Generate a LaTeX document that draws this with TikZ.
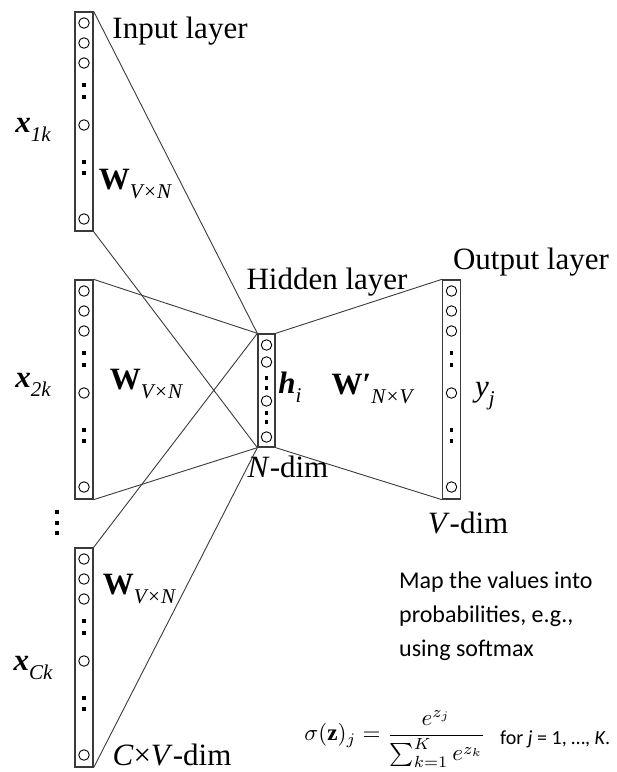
\documentclass[tikz,border=0pt]{standalone}
\usepackage{fontspec}
\setmainfont{Liberation Serif}
\newfontfamily\calibri{Carlito}
\usetikzlibrary{positioning}
\definecolor{NetInk}{HTML}{3A3A3A}
\tikzset{
  colbox/.style={draw=NetInk, line width=1.3pt, minimum width=18, inner sep=0pt},
  unit/.style={circle, draw=black, line width=0.9pt, minimum size=10.5, inner sep=0pt},
  sqdot/.style={fill=black, minimum size=3.6, inner sep=0pt},
  link/.style={draw=NetInk, line width=0.9pt},
  lbl/.style={font=\fontsize{31}{34}\selectfont, inner sep=0pt},
  note/.style={font=\calibri\fontsize{24}{34}\selectfont, align=left, inner sep=0pt},
}
\newcommand{\lsub}[1]{\raisebox{-0.3em}{\fontsize{21}{21}\selectfont\itshape #1}}

\begin{document}
\begin{tikzpicture}[x=1pt, y=-1pt]
  \useasboundingbox (0,0) rectangle (617,772);

  % \wordcol{name}{x}{top}: one-hot / output column
  \newcommand{\wordcol}[3]{%
    \node[colbox, minimum height=219] (#1) at (#2,#3+109.5) {};
    \foreach \dy in {11,31,51,113,207}
      \node[unit] (#1-u\dy) at (#2,#3+\dy) {};
    \foreach \dy in {73,85,150,161}
      \node[sqdot] (#1-d\dy) at (#2,#3+\dy) {};
  }

  \wordcol{in1}{84}{12}
  \wordcol{in2}{84}{280}
  \wordcol{in3}{84}{548}
  \wordcol{out}{451.5}{280}

  % hidden layer
  \node[colbox, minimum width=17, minimum height=113] (hid) at (266.5,390.5) {};
  \foreach \yy in {345,362,401,437}
    \node[unit] (hid-u\yy) at (266.5,\yy) {};
  \foreach \yy in {378,388,413,422}
    \node[sqdot] (hid-d\yy) at (266.5,\yy) {};

  % connections
  \foreach \src in {in1,in2,in3} {
    \draw[link] (\src.north east) -- (hid.north west);
    \draw[link] (\src.south east) -- (hid.south west);
  }
  \draw[link] (hid.north east) -- (out.north west);
  \draw[link] (hid.south east) -- (out.south west);

  % more context words
  \foreach \yy in {512,523,533}
    \node[sqdot, minimum size=4.5] (ctx-d\yy) at (57,\yy) {};

  % labels
  \node[lbl] (inlabel) at (180,31) {Input layer};
  \node[lbl] (hidlabel) at (327,282) {Hidden layer};
  \node[lbl] (outlabel) at (531,262) {Output layer};
  \node[lbl] (x1) at (33,130) {\textbf{\textit{x}}\lsub{1k}};
  \node[lbl] (x2) at (33,385) {\textbf{\textit{x}}\lsub{2k}};
  \node[lbl] (xc) at (33,668) {\textbf{\textit{x}}\lsub{Ck}};
  \node[lbl] (w1) at (135,184) {\textbf{W}\lsub{V×N}};
  \node[lbl] (w2) at (146,384) {\textbf{W}\lsub{V×N}};
  \node[lbl] (w3) at (139,589) {\textbf{W}\lsub{V×N}};
  \node[lbl] (hi) at (290,387) {\textbf{\textit{h}}\lsub{i}};
  \node[lbl] (wp) at (372,389) {\textbf{W}{\bfseries\char"2032}\lsub{N×V}};
  \node[lbl] (yj) at (485,396) {\textit{y}\lsub{j}};
  \node[lbl] (ndim) at (288,467) {\textit{N}-dim};
  \node[lbl] (vdim) at (468,523) {\textit{V}-dim};
  \node[lbl] (cvdim) at (172,755) {\textit{C}×\textit{V}-dim};

  % softmax note
  \node[note, anchor=north west] (mapnote) at (399,572)
    {Map the values into\\probabilities, e.g.,\\using softmax};
  \node[scale=2.3, inner sep=0pt, anchor=west] (softmax) at (304,739)
    {$\displaystyle \sigma(\mathbf{z})_j = \frac{e^{z_j}}{\sum_{k=1}^K e^{z_k}}$};
  \node[font=\calibri\fontsize{20}{20}\selectfont, inner sep=0pt, anchor=west]
    (forj) at (500,739) {for \textit{j} = 1, \dots, \textit{K}.};

\end{tikzpicture}
\end{document}
